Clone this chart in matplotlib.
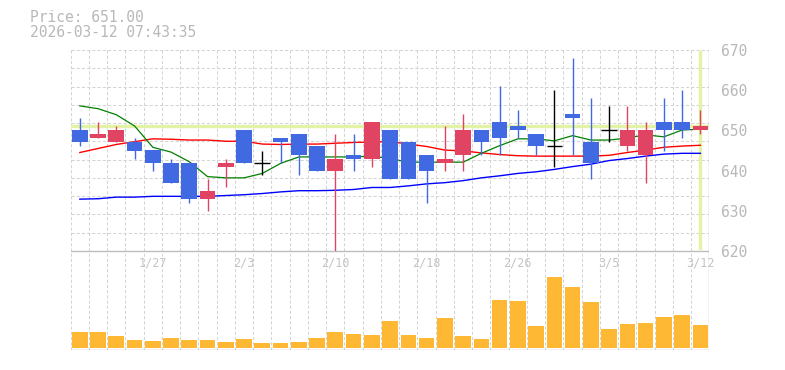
import matplotlib
matplotlib.use("Agg")
import matplotlib.pyplot as plt
import matplotlib.transforms as mtransforms
import numpy as np

# ---- data ----
opens  = [650, 648, 647, 647, 645, 642, 642, 633, 641, 650, 642, 648, 649, 646, 640, 644, 643, 650,
          647, 644, 642, 644, 650, 652, 651, 649, 646, 654, 647, 650, 646, 644, 652, 652, 650]
highs  = [653, 652, 651, 648, 645, 643, 642, 638, 643, 650, 645, 648, 649, 646, 649, 649, 652, 650,
          647, 644, 651, 654, 650, 661, 655, 649, 660, 668, 658, 656, 656, 652, 658, 660, 655]
lows   = [646, 648, 647, 643, 640, 637, 632, 630, 636, 642, 639, 642, 639, 640, 620, 640, 641, 638,
          638, 632, 640, 640, 644, 644, 648, 644, 641, 644, 638, 647, 645, 637, 645, 648, 649]
closes = [647, 649, 650, 645, 642, 637, 633, 635, 642, 642, 642, 647, 644, 640, 643, 643, 652, 638,
          638, 640, 643, 650, 647, 648, 650, 646, 646, 653, 642, 650, 650, 650, 650, 650, 651]
volumes = [49, 49, 36, 24, 21, 30, 24, 24, 18, 27, 15, 15, 18, 30, 48, 42, 39, 81,
           39, 30, 90, 36, 27, 144, 141, 66, 213, 183, 138, 57, 72, 75, 93, 99, 69]
ma_short = [656.1, 655.4, 653.9, 651.1, 645.8, 644.6, 642.2, 638.5, 638.2, 638.2, 639.3, 641.8,
            643.4, 643.4, 643.4, 643.4, 643.6, 643.0, 642.1, 642.1, 642.1, 642.1, 644.3, 646.2,
            647.9, 647.9, 647.4, 648.7, 647.6, 647.6, 648.1, 648.9, 648.4, 650.1, 650.3]
ma_mid = [644.5, 645.5, 646.5, 647.2, 647.9, 647.8, 647.6, 647.6, 647.3, 647.3, 646.6, 646.5,
          646.6, 646.6, 646.8, 647.0, 647.1, 647.2, 646.6, 646.0, 645.1, 644.9, 644.4, 644.0,
          643.7, 643.6, 643.6, 643.6, 643.6, 643.8, 644.5, 645.1, 645.8, 646.1, 646.3]
ma_long = [632.9, 633.0, 633.4, 633.4, 633.6, 633.6, 633.6, 633.6, 633.8, 634.0, 634.3, 634.7,
           635.0, 635.0, 635.1, 635.3, 635.8, 635.8, 636.2, 636.7, 637.0, 637.5, 638.2, 638.7,
           639.3, 639.7, 640.3, 641.0, 641.6, 642.5, 643.0, 643.6, 644.1, 644.3, 644.3]
date_labels = {4: "1/27", 9: "2/3", 14: "2/10", 19: "2/18", 24: "2/26", 29: "3/5", 34: "3/12"}
price_ticks = [620, 630, 640, 650, 660, 670]
last_price = 651.00
timestamp = "2026-03-12 07:43:35"

# ---- style ----
C_UP = "#e04462"
C_DOWN = "#4169e1"
C_DOJI = "#000000"
C_VOL = "#ffb833"
C_HL = "#e2f3a6"
C_GRID = "#d4d4d4"
C_BORDER = "#bdbdbd"
C_TEXT = "#b8b8b8"
MONO = "DejaVu Sans Mono"

W, H = 785, 370
fig = plt.figure(figsize=(W / 100, H / 100), dpi=100)

left, right = 70.7, 709.5
p_top, p_bot = 50.0, 251.0
v_top, v_bot = 250.7, 350.0
axp = fig.add_axes([left / W, 1 - p_bot / H, (right - left) / W, (p_bot - p_top) / H])
axv = fig.add_axes([left / W, 1 - v_bot / H, (right - left) / W, (v_bot - v_top) / H])

n = len(opens)
x = np.arange(n)
ymin, ymax = 620, 670

for ax in (axp, axv):
    ax.set_xlim(-0.5, n - 0.5)
    ax.set_facecolor("white")
    for s in ax.spines.values():
        s.set_visible(False)
    ax.tick_params(length=0)
    ax.set_xticks([])
    # vertical dashed grid at cell boundaries
    for b in np.arange(-0.5, n - 0.5, 1.0):
        ax.axvline(b, color=C_GRID, lw=0.75, ls=(0, (3, 2)), zorder=0)

axp.set_ylim(ymin, ymax)
for g in np.linspace(ymin, ymax, 12)[1:]:
    axp.axhline(g, color=C_GRID, lw=0.75, ls=(0, (3, 2)), zorder=0)
axp.axhline(ymin, color=C_BORDER, lw=1.0, zorder=1)
axp.axvline(n - 0.5, color=C_BORDER, lw=1.0, zorder=1)

# highlight lines
axp.axhline(last_price, color=C_HL, lw=2.4, zorder=1.5)
axp.axvline(n - 1, ymin=0.015, ymax=0.99, color=C_HL, lw=2.4, zorder=1.5)

# moving averages
axp.plot(x, ma_long, color="#0000ff", lw=1.0, zorder=2)
axp.plot(x, ma_mid, color="#ff0000", lw=1.0, zorder=2)
axp.plot(x, ma_short, color="#008000", lw=0.9, zorder=2)

# candles
bw = 0.86
for i in range(n):
    o, h, l, c = opens[i], highs[i], lows[i], closes[i]
    if c > o:
        col = C_UP
    elif c < o:
        col = C_DOWN
    else:
        col = C_DOJI
    axp.vlines(i, l, h, color=col, lw=1.0, zorder=3)
    if c == o:
        axp.hlines(c, i - bw / 2, i + bw / 2, color=col, lw=1.0, zorder=3)
    else:
        axp.bar(i, abs(c - o), bottom=min(o, c), width=bw, color=col, zorder=4, linewidth=0)

axp.yaxis.tick_right()
axp.set_yticks(price_ticks)
axp.set_yticklabels([str(t) for t in price_ticks], fontfamily=MONO, fontsize=10.5, color=C_TEXT)
axp.tick_params(axis="y", pad=8, length=0)

# volume
axv.set_ylim(-6, 292)
axv.set_yticks([])
axv.bar(x, volumes, width=bw, color=C_VOL, zorder=2, linewidth=0)
axv.axhline(292, color=C_BORDER, lw=1.0, zorder=3)
axv.axhline(-6, color=C_BORDER, lw=1.0, zorder=3)
axv.axvline(n - 0.5, color=C_BORDER, lw=1.0, zorder=3)
trans = mtransforms.blended_transform_factory(axv.transData, axv.transAxes)
for i, lab in date_labels.items():
    axv.text(i, 1 - 12.0 / (v_bot - v_top), lab, transform=trans, ha="center", va="center",
             fontfamily=MONO, fontsize=8.5, color="#c4c4c4", zorder=5)

fig.text(30 / W, 1 - 17.5 / H, f"Price: {last_price:.2f}", fontfamily=MONO, fontsize=10.5,
         color=C_TEXT, ha="left", va="center")
fig.text(30 / W, 1 - 32.5 / H, timestamp, fontfamily=MONO, fontsize=10.5,
         color=C_TEXT, ha="left", va="center")

fig.savefig("out.png", dpi=100, facecolor="white")
